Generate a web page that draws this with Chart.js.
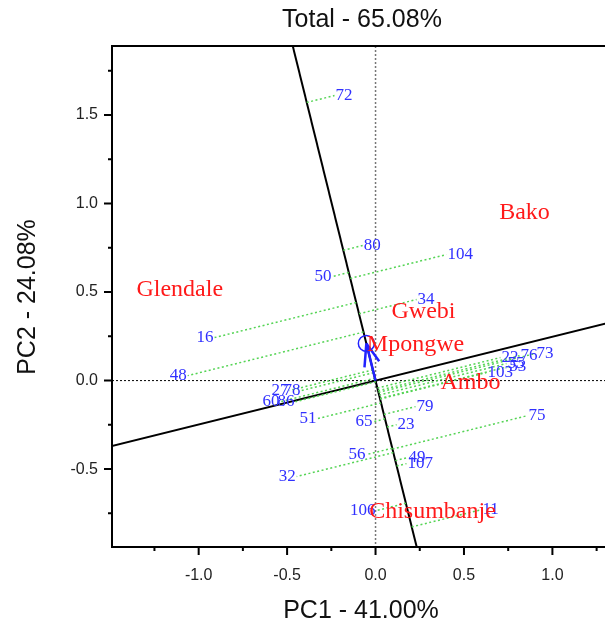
<!DOCTYPE html>
<html>
<head>
<meta charset="utf-8">
<script src="https://cdn.jsdelivr.net/npm/chart.js@4.4.0/dist/chart.umd.min.js"></script>
<style>
html, body { margin: 0; padding: 0; background: #fff; overflow: hidden; }
</style>
</head>
<body>
<canvas id="biplot" width="651" height="631"></canvas>
<script>
// genotype scores
var genoLabels = ['72', '80', '104', '50', '34', '16', '48', '27', '78', '60', '86', '51', '65', '79',
                  '23', '75', '56', '32', '49', '107', '106', '11', '22', '76', '73', '55', '53', '103'];
var genoPC1 = [-0.232, -0.073, 0.401, -0.243, 0.232, -0.910, -1.062, -0.486, -0.418, -0.537, -0.452, -0.328, -0.011, 0.226,
               0.119, 0.859, -0.051, -0.446, 0.181, 0.175, 0.006, 0.599, 0.706, 0.814, 0.904, 0.740, 0.751, 0.627];
var genoPC2 = [1.610, 0.763, 0.712, 0.588, 0.458, 0.243, 0.028, -0.056, -0.056, -0.119, -0.119, -0.215, -0.232, -0.147,
               -0.249, -0.198, -0.418, -0.542, -0.435, -0.469, -0.734, -0.729, 0.130, 0.141, 0.153, 0.096, 0.079, 0.045];

// environment scores
var envLabels = ['Bako', 'Glendale', 'Gwebi', 'Mpongwe', 'Ambo', 'Chisumbanje'];
var envPC1 = [0.842, -1.107, 0.271, 0.226, 0.537, 0.322];
var envPC2 = [0.949, 0.514, 0.390, 0.203, -0.011, -0.740];

// average environment (circle)
var avgEnv = [-0.052, 0.21];

var titleText = 'Total - 65.08%';
var xTitle = 'PC1 - 41.00%';
var yTitle = 'PC2 - 24.08%';

// axis through the average environment and the one perpendicular to it
var len = Math.sqrt(avgEnv[0] * avgEnv[0] + avgEnv[1] * avgEnv[1]);
var u = [avgEnv[0] / len, avgEnv[1] / len];
var v = [u[1], -u[0]];

var datasets = [];

// projections of genotypes onto the average environment axis
for (var i = 0; i < genoLabels.length; i++) {
    var d = genoPC1[i] * u[0] + genoPC2[i] * u[1];
    datasets.push({
        data: [{x: d * u[0], y: d * u[1]}, {x: genoPC1[i], y: genoPC2[i]}],
        showLine: true,
        borderColor: '#55d455',
        borderWidth: 1.5,
        borderDash: [2, 2.5],
        pointRadius: 0
    });
}

datasets.push({
    data: [{x: -3 * u[0], y: -3 * u[1]}, {x: 3 * u[0], y: 3 * u[1]}],
    showLine: true, borderColor: '#000', borderWidth: 2, pointRadius: 0
});
datasets.push({
    data: [{x: -3 * v[0], y: -3 * v[1]}, {x: 3 * v[0], y: 3 * v[1]}],
    showLine: true, borderColor: '#000', borderWidth: 2, pointRadius: 0
});

function tickLabel(val) {
    var h = val * 2;
    if (Math.abs(h - Math.round(h)) < 1e-6) {
        return (Math.round(h) / 2).toFixed(1);
    }
    return '';
}

var biplotPlugin = {
    id: 'biplot',
    beforeDatasetsDraw: function (chart) {
        var ctx = chart.ctx, a = chart.chartArea;
        var xs = chart.scales.x, ys = chart.scales.y;
        var x0 = xs.getPixelForValue(0), y0 = ys.getPixelForValue(0);
        ctx.save();
        ctx.lineWidth = 1;
        ctx.setLineDash([2, 2]);
        ctx.strokeStyle = '#000';
        ctx.beginPath();
        ctx.moveTo(a.left, y0);
        ctx.lineTo(a.right, y0);
        ctx.stroke();
        ctx.strokeStyle = '#777';
        ctx.lineWidth = 1.5;
        ctx.beginPath();
        ctx.moveTo(x0, a.top);
        ctx.lineTo(x0, a.bottom);
        ctx.stroke();
        ctx.restore();
    },
    afterDatasetsDraw: function (chart) {
        var ctx = chart.ctx;
        var xs = chart.scales.x, ys = chart.scales.y;
        ctx.save();

        // average environment arrow and circle
        var ox = xs.getPixelForValue(0), oy = ys.getPixelForValue(0);
        var tx = xs.getPixelForValue(avgEnv[0]), ty = ys.getPixelForValue(avgEnv[1]);
        var ang = Math.atan2(oy - ty, ox - tx);
        ctx.strokeStyle = '#2222ff';
        ctx.lineWidth = 2.5;
        ctx.beginPath();
        ctx.moveTo(ox, oy);
        ctx.lineTo(tx, ty);
        ctx.moveTo(tx, ty);
        ctx.lineTo(tx + 24 * Math.cos(ang + 0.32), ty + 24 * Math.sin(ang + 0.32));
        ctx.moveTo(tx, ty);
        ctx.lineTo(tx + 22 * Math.cos(ang - 0.38), ty + 22 * Math.sin(ang - 0.38));
        ctx.stroke();
        ctx.lineWidth = 1.5;
        ctx.beginPath();
        ctx.arc(tx, ty, 8, 0, Math.PI * 2);
        ctx.stroke();

        // genotype labels, placed away from the axis
        ctx.font = '17px "Liberation Serif"';
        ctx.fillStyle = '#3030ff';
        ctx.textBaseline = 'middle';
        for (var i = 0; i < genoLabels.length; i++) {
            var d = genoPC1[i] * u[0] + genoPC2[i] * u[1];
            var side = genoPC1[i] - d * u[0];
            ctx.textAlign = side >= 0 ? 'left' : 'right';
            var px = xs.getPixelForValue(genoPC1[i]) + (side >= 0 ? 1 : -1);
            ctx.fillText(genoLabels[i], px, ys.getPixelForValue(genoPC2[i]));
        }

        // environment labels
        ctx.font = '24px "Liberation Serif"';
        ctx.fillStyle = '#ff1a1a';
        ctx.textAlign = 'center';
        for (var j = 0; j < envLabels.length; j++) {
            ctx.fillText(envLabels[j], xs.getPixelForValue(envPC1[j]), ys.getPixelForValue(envPC2[j]));
        }
        ctx.restore();
    },
    afterDraw: function (chart) {
        var ctx = chart.ctx, a = chart.chartArea;
        var xs = chart.scales.x, ys = chart.scales.y;
        ctx.save();

        // frame
        ctx.strokeStyle = '#000';
        ctx.lineWidth = 2;
        ctx.beginPath();
        ctx.moveTo(a.right + 2, a.top);
        ctx.lineTo(a.left, a.top);
        ctx.lineTo(a.left, a.bottom);
        ctx.lineTo(a.right + 2, a.bottom);
        ctx.stroke();

        // tick marks, long at labelled ticks
        ctx.beginPath();
        xs.ticks.forEach(function (t) {
            var p = xs.getPixelForValue(t.value);
            ctx.moveTo(p, a.bottom);
            ctx.lineTo(p, a.bottom + (t.label ? 8 : 4));
        });
        ys.ticks.forEach(function (t) {
            var p = ys.getPixelForValue(t.value);
            ctx.moveTo(a.left, p);
            ctx.lineTo(a.left - (t.label ? 8 : 4), p);
        });
        ctx.stroke();

        // titles
        ctx.fillStyle = '#111';
        ctx.font = '25px "Liberation Sans"';
        ctx.textAlign = 'center';
        ctx.textBaseline = 'middle';
        ctx.fillText(titleText, 362, 20);
        ctx.fillText(xTitle, 361, 611);
        ctx.translate(28, 297);
        ctx.rotate(-Math.PI / 2);
        ctx.fillText(yTitle, 0, 0);
        ctx.restore();
    }
};

var ctx = document.getElementById('biplot');
var myChart = new Chart(ctx, {
    type: 'scatter',
    data: { datasets: datasets },
    options: {
        responsive: false,
        animation: false,
        layout: { padding: { top: 46, right: 19, left: 0, bottom: 0 } },
        plugins: {
            legend: { display: false },
            tooltip: { enabled: false }
        },
        scales: {
            x: {
                type: 'linear',
                min: -1.49,
                max: 1.45,
                grid: { display: false, drawTicks: false },
                border: { display: false },
                ticks: {
                    stepSize: 0.25,
                    includeBounds: false,
                    autoSkip: false,
                    maxRotation: 0,
                    padding: 19,
                    color: '#222',
                    font: { family: 'Liberation Sans', size: 16 },
                    callback: tickLabel
                },
                afterFit: function (scale) { scale.height = 84; }
            },
            y: {
                type: 'linear',
                min: -0.94,
                max: 1.89,
                grid: { display: false, drawTicks: false },
                border: { display: false },
                ticks: {
                    stepSize: 0.25,
                    includeBounds: false,
                    autoSkip: false,
                    padding: 14,
                    color: '#222',
                    font: { family: 'Liberation Sans', size: 16 },
                    callback: tickLabel
                },
                afterFit: function (scale) { scale.width = 112; }
            }
        }
    },
    plugins: [biplotPlugin]
});
</script>
</body>
</html>
